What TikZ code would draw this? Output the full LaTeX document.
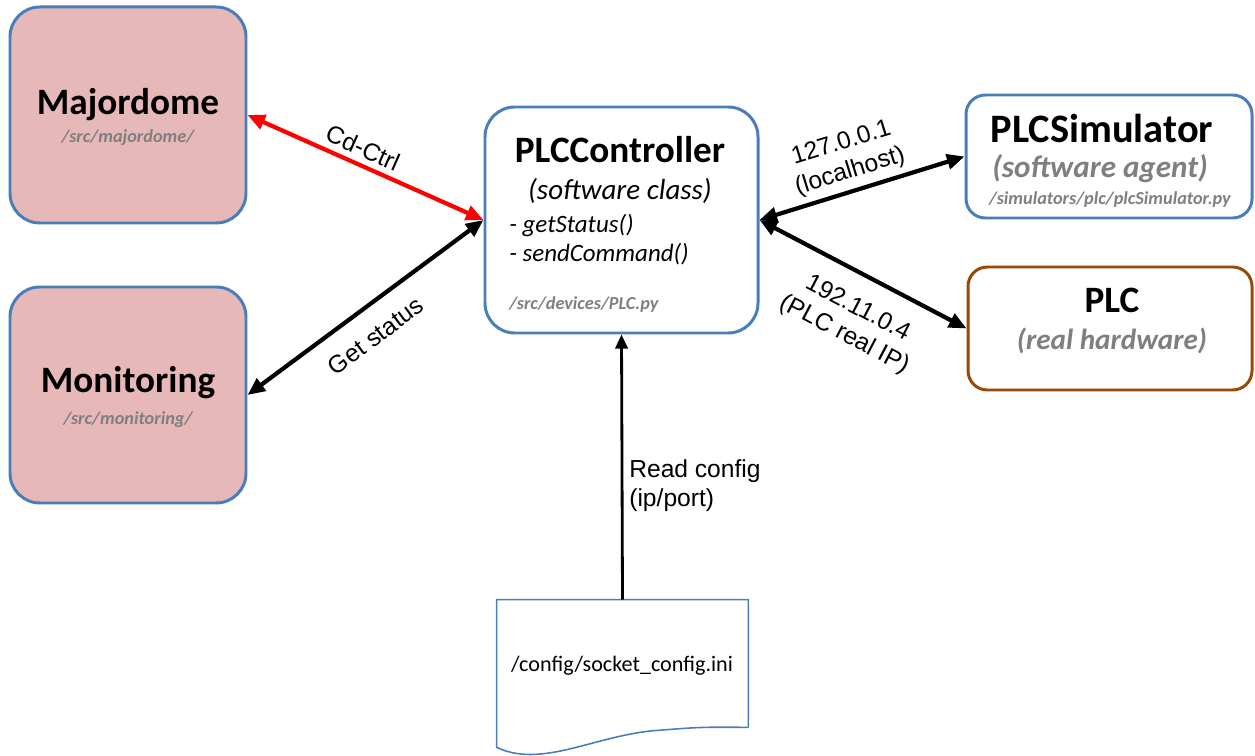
\documentclass[tikz,border=0pt]{standalone}
\usepackage{fontspec}
\setmainfont{Carlito}
\newfontfamily\arialfont{Liberation Sans}
\usetikzlibrary{arrows.meta,fit,calc}

\definecolor{boxblue}{RGB}{74,126,187}
\definecolor{boxpink}{RGB}{230,185,184}
\definecolor{hwbrown}{RGB}{152,72,7}
\definecolor{pathgrey}{RGB}{127,127,127}

\tikzset{
  module/.style={draw=boxblue, line width=1.7pt, rounded corners=17pt, inner sep=0pt},
  device/.style={module, rounded corners=11pt},
  title/.style={anchor=base, inner sep=0pt, font=\bfseries\fontsize{21.2}{25}\selectfont},
  srcpath/.style={anchor=base, inner sep=0pt, text=pathgrey, font=\bfseries\itshape\fontsize{10.4}{12}\selectfont},
  kind/.style={anchor=base, inner sep=0pt, text=pathgrey, font=\bfseries\itshape\fontsize{17}{20}\selectfont},
  method/.style={anchor=base west, inner sep=0pt, font=\itshape\fontsize{14.2}{17}\selectfont},
  edgelabel/.style={text=black, font=\arialfont\fontsize{14}{16.8}\selectfont, align=center},
  link/.style={line width=2.4pt, {Triangle[length=10pt,width=8.5pt]}-{Triangle[length=10pt,width=8.5pt]}}
}

\begin{document}
\begin{tikzpicture}[x=0.02cm, y=-0.02cm]
  \useasboundingbox (0,0) rectangle (1255,756);

  % Client modules
  \node[module, fill=boxpink, fit={(10,7) (246,223)}] (majordome) {};
  \node[title] (majordome-name) at (128,115) {Majordome};
  \node[srcpath] (majordome-src) at (128,143) {/src/majordome/};

  \node[module, fill=boxpink, fit={(10,287) (246,503)}] (monitoring) {};
  \node[title] (monitoring-name) at (128,393) {Monitoring};
  \node[srcpath] (monitoring-src) at (128,425) {/src/monitoring/};

  % Controller class
  \node[module, fill=white, fit={(485,107) (758,333)}] (controller) {};
  \node[title] (controller-name) at (620,163) {PLCController};
  \node[anchor=base, inner sep=0pt, font=\itshape\fontsize{16.5}{20}\selectfont] (controller-kind) at (620,200) {(software class)};
  \node[method] (get-status) at (509,233) {- getStatus()};
  \node[method] (send-command) at (509,262) {- sendCommand()};
  \node[srcpath, anchor=base west] (controller-src) at (509,310) {/src/devices/PLC.py};

  % Targets
  \node[device, fill=white, fit={(966,95) (1252,218)}] (simulator) {};
  \node[title, font=\bfseries\fontsize{23}{27}\selectfont] (simulator-name) at (1102,143) {PLCSimulator};
  \node[kind, font=\bfseries\itshape\fontsize{17.7}{21}\selectfont] (simulator-kind) at (1100,178) {(software agent)};
  \node[srcpath] (simulator-src) at (1110,205) {/simulators/plc/plcSimulator.py};

  \node[device, draw=hwbrown, fill=white, fit={(968,267) (1252,390)}] (plc) {};
  \node[title] (plc-name) at (1112,313) {PLC};
  \node[kind, font=\bfseries\itshape\fontsize{16.6}{20}\selectfont] (plc-kind) at (1112,350) {(real hardware)};

  % Config file
  \node[fit={(497,600) (748,727)}, inner sep=0pt] (config) {};
  \node[anchor=base, inner sep=0pt, font=\fontsize{12.6}{15}\selectfont] (config-file) at (622,672) {/config/socket\_config.ini};
  \draw[boxblue, line width=0.9pt] (config.south east) -- (config.north east) -- (config.north west)
    -- ($(config.south west)+(0,20)$) .. controls (540,768) and (590,738) .. (650,731)
    .. controls (700,727) .. (config.south east);

  % Links
  \draw[link, red] (majordome.east) -- (controller.west)
    node[edgelabel, sloped, above, pos=0.46] (cd-ctrl) {Cd-Ctrl};
  \draw[link] (monitoring.east) -- (controller.west)
    node[edgelabel, sloped, below=7pt, pos=0.47] (get-status-lbl) {Get status};
  \draw[link] (controller.east) -- (simulator.west)
    node[edgelabel, sloped, above, pos=0.47] (localhost) {127.0.0.1\\(localhost)};
  \draw[link] (controller.east) -- (plc.west)
    node[edgelabel, sloped, below=8pt, pos=0.55] (real-ip) {192.11.0.4\\(PLC real IP)};
  \draw[line width=1.6pt, -{Triangle[length=8pt,width=7pt]}] (config.north) -- (controller.south)
    node[edgelabel, right, align=left, pos=0.43] (read-config) {Read config\\(ip/port)};

\end{tikzpicture}
\end{document}
